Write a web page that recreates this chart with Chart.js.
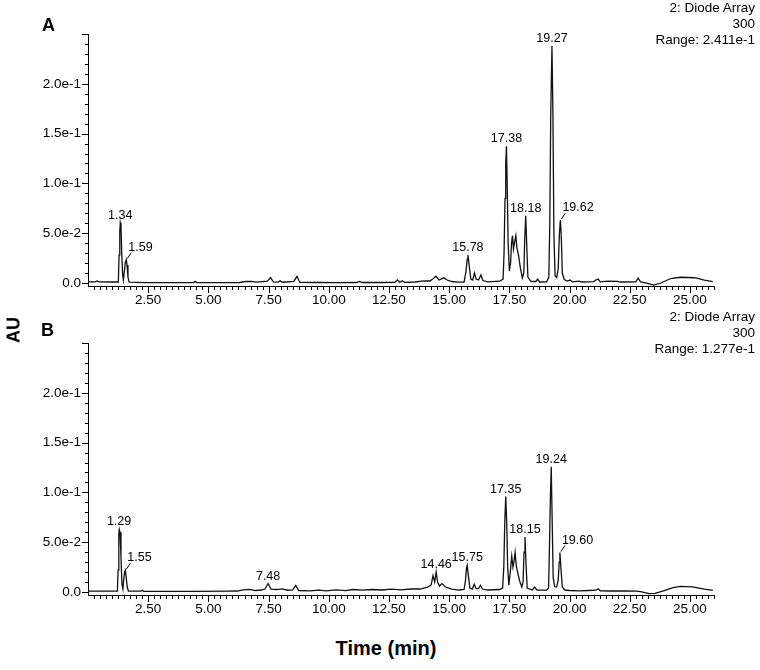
<!DOCTYPE html>
<html>
<head>
<meta charset="utf-8">
<script src="https://cdn.jsdelivr.net/npm/chart.js@4"></script>
<style>
  body { margin: 0; background: #fff; }
  #wrap { position: relative; width: 760px; height: 670px; font-family: 'Liberation Sans', Arial, sans-serif; color: #000; }
  canvas { position: absolute; left: 0; }
  #chartA { top: 0; }
  #chartB { top: 309px; }
  .panel { position: absolute; font-size: 18px; font-weight: bold; line-height: 20px; }
  .info { position: absolute; right: 5px; font-size: 13.5px; line-height: 16px; text-align: right; }
  #au { position: absolute; left: 14px; top: 330px; font-size: 18px; font-weight: bold; transform: translate(-50%, -50%) rotate(-90deg); }
  #xtitle { position: absolute; left: 386px; top: 648px; font-size: 20px; font-weight: bold; transform: translate(-50%, -50%); white-space: nowrap; }
</style>
</head>
<body>
<div id="wrap">
  <canvas id="chartA" width="760" height="310"></canvas>
  <canvas id="chartB" width="760" height="310"></canvas>
  <div class="panel" style="left:42px; top:15px;">A</div>
  <div class="panel" style="left:41px; top:320px;">B</div>
  <div class="info" style="top:0px;">2: Diode Array<br>300<br>Range: 2.411e-1</div>
  <div class="info" style="top:309px;">2: Diode Array<br>300<br>Range: 1.277e-1</div>
  <div id="au">AU</div>
  <div id="xtitle">Time (min)</div>
</div>
<script>
// axis ticks
const xTicks = [2.5, 5, 7.5, 10, 12.5, 15, 17.5, 20, 22.5, 25];
const yTicks = [0, 0.05, 0.10, 0.15, 0.20];
const yTickLabels = ["0.0", "5.0e-2", "1.0e-1", "1.5e-1", "2.0e-1"];

// chromatogram A  [time (min), AU]
const traceA = [
  [0.00,0.0012],[0.30,0.0012],[0.38,0.0020],[0.46,0.0012],[1.00,0.0010],[1.26,0.0010],
  [1.29,0.028],[1.32,0.052],[1.34,0.0604],[1.37,0.057],[1.40,0.030],[1.44,0.008],[1.47,0.003],
  [1.51,0.012],[1.55,0.021],[1.59,0.0235],[1.62,0.018],[1.66,0.006],[1.71,0.0008],
  [2.40,0.0004],[4.38,0.0004],[4.45,0.0016],[4.52,0.0004],[6.30,0.0005],[6.55,0.0015],[6.80,0.0016],
  [7.00,0.0008],[7.45,0.0018],[7.58,0.0055],[7.70,0.0012],[7.90,0.0009],[7.98,0.0022],[8.08,0.0008],
  [8.55,0.0016],[8.68,0.0066],[8.80,0.0006],[9.60,0.0005],[10.40,0.0004],[11.15,0.0005],[11.28,0.0016],
  [11.40,0.0005],[12.20,0.0005],[12.75,0.0007],[12.85,0.0032],[12.95,0.0007],[13.05,0.0022],[13.15,0.0007],
  [13.60,0.0010],[13.85,0.0018],[14.05,0.0022],[14.20,0.0020],[14.32,0.0040],[14.45,0.0068],[14.58,0.0030],
  [14.78,0.0052],[14.92,0.0030],[15.10,0.0015],[15.35,0.0008],[15.62,0.0010],[15.70,0.012],[15.75,0.024],
  [15.78,0.0282],[15.82,0.020],[15.90,0.004],[15.98,0.003],[16.05,0.0100],[16.12,0.0040],[16.22,0.0030],
  [16.32,0.0080],[16.40,0.0025],[16.60,0.0012],[17.10,0.0018],[17.24,0.0040],[17.28,0.030],[17.32,0.085],
  [17.35,0.120],[17.38,0.1372],[17.41,0.100],[17.45,0.040],[17.50,0.012],[17.55,0.020],[17.59,0.040],
  [17.63,0.0475],[17.67,0.034],[17.71,0.040],[17.77,0.0475],[17.81,0.036],[17.88,0.028],[17.96,0.015],
  [18.04,0.005],[18.10,0.010],[18.14,0.045],[18.18,0.0675],[18.22,0.040],[18.27,0.006],[18.40,0.0015],
  [18.60,0.0015],[18.68,0.0040],[18.76,0.0010],[19.05,0.0012],[19.14,0.0060],[19.18,0.060],[19.22,0.170],
  [19.27,0.2380],[19.31,0.170],[19.35,0.050],[19.40,0.0070],[19.47,0.0055],[19.53,0.015],[19.58,0.050],
  [19.62,0.0632],[19.66,0.045],[19.70,0.010],[19.78,0.0035],[19.90,0.0020],[20.02,0.0030],[20.12,0.0012],
  [20.40,0.0018],[20.50,0.0010],[21.00,0.0014],[21.10,0.0030],[21.19,0.0040],[21.28,0.0012],[21.60,0.0018],
  [22.00,0.0016],[22.10,0.0010],[22.75,0.0012],[22.85,0.0048],[22.95,0.0012],[23.20,0.0000],[23.50,-0.0020],
  [23.80,0.0000],[24.20,0.0045],[24.60,0.0058],[25.20,0.0053],[25.60,0.0030],[25.95,0.0013]
];

// chromatogram B  [time (min), AU]
const traceB = [
  [0.00,0.0008],[1.22,0.0008],[1.25,0.022],[1.28,0.058],[1.30,0.0628],[1.33,0.060],[1.37,0.035],
  [1.41,0.008],[1.45,0.003],[1.48,0.012],[1.52,0.020],[1.55,0.0218],[1.58,0.016],[1.63,0.005],
  [1.68,0.0008],[2.20,0.0008],[2.26,0.0018],[2.32,0.0006],[4.50,0.0006],[5.80,0.0008],[6.20,0.0010],
  [6.45,0.0022],[6.70,0.0026],[6.95,0.0015],[7.20,0.0020],[7.35,0.0030],[7.48,0.0085],[7.60,0.0030],
  [7.85,0.0025],[8.05,0.0032],[8.30,0.0018],[8.50,0.0022],[8.63,0.0065],[8.75,0.0015],[9.20,0.0012],
  [9.60,0.0018],[9.90,0.0012],[10.30,0.0022],[10.70,0.0014],[11.00,0.0025],[11.40,0.0018],[11.80,0.0025],
  [12.20,0.0020],[12.60,0.0028],[13.00,0.0022],[13.40,0.0030],[13.80,0.0030],[14.10,0.0050],[14.25,0.0070],
  [14.33,0.0165],[14.40,0.010],[14.46,0.0200],[14.52,0.0100],[14.60,0.0060],[14.70,0.0085],[14.85,0.0050],
  [15.10,0.0030],[15.40,0.0020],[15.62,0.0025],[15.68,0.012],[15.72,0.024],[15.75,0.0268],[15.79,0.018],
  [15.86,0.004],[15.96,0.0030],[16.04,0.0078],[16.12,0.0035],[16.22,0.0035],[16.30,0.0068],[16.38,0.0030],
  [16.60,0.0020],[17.10,0.0025],[17.22,0.0040],[17.27,0.025],[17.31,0.070],[17.35,0.0958],[17.39,0.070],
  [17.43,0.025],[17.48,0.0068],[17.53,0.018],[17.60,0.0360],[17.65,0.025],[17.69,0.030],[17.74,0.0398],
  [17.79,0.026],[17.86,0.018],[17.94,0.010],[18.02,0.0050],[18.07,0.010],[18.11,0.040],[18.15,0.0553],
  [18.19,0.030],[18.24,0.0040],[18.45,0.0020],[18.55,0.0050],[18.65,0.0018],[19.05,0.0018],[19.13,0.0040],
  [19.17,0.050],[19.20,0.090],[19.24,0.1258],[19.28,0.070],[19.32,0.015],[19.38,0.0055],[19.46,0.0050],
  [19.53,0.012],[19.57,0.030],[19.60,0.0396],[19.64,0.025],[19.70,0.005],[19.80,0.0020],[20.00,0.0015],
  [20.40,0.0012],[20.80,0.0015],[21.10,0.0018],[21.19,0.0032],[21.28,0.0012],[21.70,0.0010],[22.30,0.0010],
  [22.80,0.0008],[23.00,0.0002],[23.30,-0.0016],[23.55,-0.0014],[23.90,0.0012],[24.30,0.0045],[24.60,0.0057],
  [25.10,0.0052],[25.60,0.0030],[25.95,0.0017]
];

// labelled peaks: retention time and apex height
const peakTimesA = [1.34, 1.59, 15.78, 17.38, 18.18, 19.27, 19.62];
const peakHeightsA = [0.0604, 0.0235, 0.0282, 0.1372, 0.0675, 0.2380, 0.0632];
const peakTimesB = [1.29, 1.55, 7.48, 14.46, 15.75, 17.35, 18.15, 19.24, 19.60];
const peakHeightsB = [0.0628, 0.0218, 0.0085, 0.0200, 0.0268, 0.0958, 0.0553, 0.1258, 0.0396];

const FONT = "'Liberation Sans', Arial, sans-serif";

// draws the minor/major tick marks and the peak time labels
const chromPlugin = {
  id: "chrom",
  afterDraw(chart, args, opts) {
    const ctx = chart.ctx;
    const xs = chart.scales.x, ys = chart.scales.y;
    const area = chart.chartArea;
    ctx.save();
    ctx.strokeStyle = "#000";
    ctx.lineWidth = 1;
    ctx.beginPath();
    for (let i = 1; i <= 104; i++) {
      const x = Math.round(xs.getPixelForValue(i * 0.25)) + 0.5;
      const len = i % 10 === 0 ? 7 : 4;
      ctx.moveTo(x, area.bottom);
      ctx.lineTo(x, area.bottom + len);
    }
    for (let i = 0; i <= 25; i++) {
      const y = Math.round(ys.getPixelForValue(i * 0.01)) + 0.5;
      const len = i % 5 === 0 ? 6 : 3;
      ctx.moveTo(area.left, y);
      ctx.lineTo(area.left - len, y);
    }
    ctx.stroke();

    ctx.fillStyle = "#000";
    ctx.font = "12.5px " + FONT;
    ctx.textBaseline = "alphabetic";
    opts.times.forEach((t, i) => {
      const px = xs.getPixelForValue(t);
      const py = ys.getPixelForValue(opts.heights[i]);
      const txt = t.toFixed(2);
      if (opts.leaders.includes(txt)) {
        ctx.beginPath();
        ctx.moveTo(px + 1, py - 1);
        ctx.lineTo(px + 5, py - 7);
        ctx.stroke();
        ctx.textAlign = "left";
        ctx.fillText(txt, px + 2, py - 9);
      } else {
        ctx.textAlign = "center";
        ctx.fillText(txt, px, py - 4);
      }
    });
    ctx.restore();
  }
};

function makeChart(id, trace, times, heights, leaders) {
  return new Chart(document.getElementById(id), {
    type: "line",
    data: {
      datasets: [{
        data: trace.map(p => ({ x: p[0], y: p[1] })),
        borderColor: "#111",
        borderWidth: 1.3,
        pointRadius: 0,
        tension: 0
      }]
    },
    options: {
      responsive: false,
      animation: false,
      layout: { padding: { top: 34, right: 46, bottom: 0, left: 0 } },
      plugins: {
        legend: { display: false },
        tooltip: { enabled: false },
        chrom: { times: times, heights: heights, leaders: leaders }
      },
      scales: {
        x: {
          type: "linear",
          min: 0,
          max: 26,
          grid: { display: false, drawTicks: false },
          border: { display: true, color: "#000", width: 1 },
          afterBuildTicks: s => { s.ticks = xTicks.map(v => ({ value: v })); },
          afterFit: s => { s.height = 24; },
          ticks: {
            padding: 6,
            color: "#000",
            maxRotation: 0,
            autoSkip: false,
            font: { family: FONT, size: 13.5 },
            callback: v => Number(v).toFixed(2)
          }
        },
        y: {
          min: -0.003,
          max: 0.25,
          grid: { display: false, drawTicks: false },
          border: { display: true, color: "#000", width: 1 },
          afterBuildTicks: s => { s.ticks = yTicks.map(v => ({ value: v })); },
          afterFit: s => { s.width = 88; },
          ticks: {
            padding: 7,
            color: "#000",
            font: { family: FONT, size: 13.5 },
            callback: (v, i) => yTickLabels[i]
          }
        }
      }
    },
    plugins: [chromPlugin]
  });
}

makeChart("chartA", traceA, peakTimesA, peakHeightsA, ["1.59", "19.62"]);
makeChart("chartB", traceB, peakTimesB, peakHeightsB, ["1.55", "19.60"]);
</script>
</body>
</html>
